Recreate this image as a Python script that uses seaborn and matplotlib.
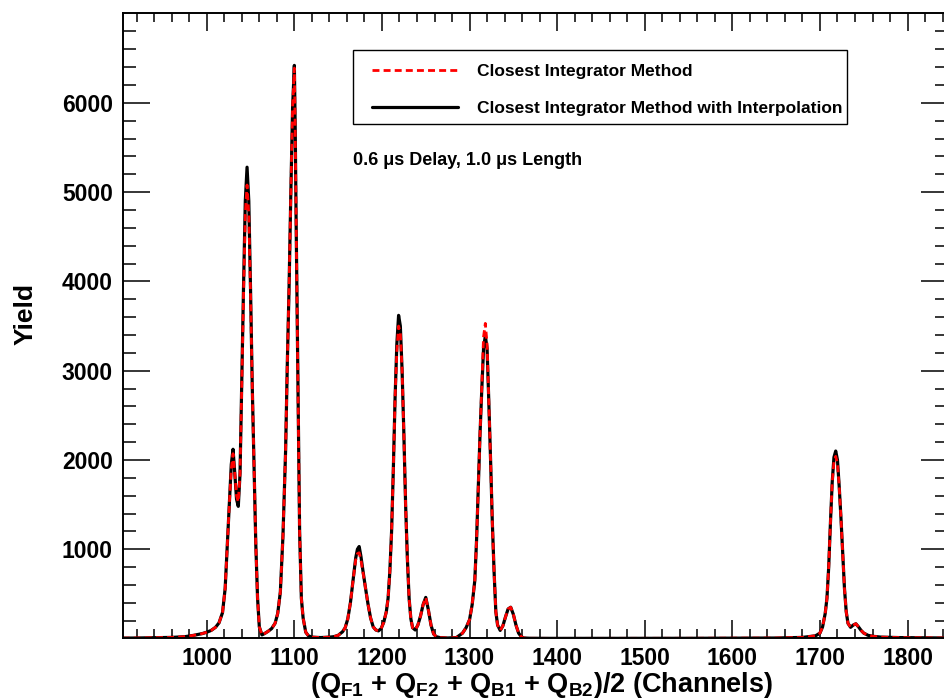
import matplotlib
matplotlib.use("Agg")
import matplotlib.pyplot as plt
from matplotlib.ticker import FixedLocator
from matplotlib.patches import Rectangle
import numpy as np
import pandas as pd
import seaborn as sns

# ---------------- data ----------------
channels = [
    904, 920, 940, 960, 975, 985, 995, 1000, 1005, 1010, 1014, 1018, 1021,
    1024, 1026, 1028, 1030, 1032, 1034, 1036, 1038, 1040, 1042, 1044, 1046,
    1048, 1050, 1052, 1054, 1056, 1058, 1060, 1063, 1066, 1070, 1074, 1078,
    1081, 1084, 1087, 1090, 1092, 1094, 1096, 1098, 1100, 1101, 1102, 1104,
    1106, 1108, 1110, 1113, 1116, 1120, 1130, 1140, 1145, 1150, 1155, 1158,
    1161, 1164, 1167, 1170, 1172, 1174, 1176, 1178, 1181, 1184, 1187, 1190,
    1193, 1196, 1199, 1202, 1205, 1207, 1209, 1211, 1213, 1215, 1217, 1219,
    1221, 1223, 1225, 1227, 1229, 1231, 1233, 1235, 1238, 1241, 1244, 1247,
    1250, 1253, 1256, 1259, 1262, 1266, 1275, 1285, 1292, 1296, 1300, 1303,
    1306, 1308, 1310, 1312, 1314, 1316, 1318, 1320, 1322, 1324, 1326, 1328,
    1330, 1332, 1335, 1338, 1341, 1344, 1347, 1350, 1353, 1356, 1359, 1362,
    1370, 1400, 1450, 1500, 1550, 1600, 1650, 1680, 1695, 1700, 1703, 1706,
    1708, 1710, 1712, 1714, 1716, 1718, 1720, 1722, 1724, 1726, 1728, 1730,
    1732, 1735, 1738, 1741, 1744, 1747, 1750, 1755, 1760, 1770, 1790, 1810,
    1830, 1846,
]

yield_interp = [
    4, 5, 8, 12, 20, 35, 55, 70, 90, 125, 175, 290, 560,
    1150, 1550, 1950, 2120, 1850, 1560, 1480, 1850, 2900, 3950, 4900, 5280,
    4900, 3900, 2800, 1900, 1050, 450, 130, 40, 55, 80, 110, 170,
    280, 520, 1150, 2100, 3100, 3950, 5000, 5950, 6420, 5700, 4700, 2900,
    1200, 450, 230, 70, 30, 15, 10, 15, 20, 35, 75, 120,
    220, 400, 650, 900, 1000, 1030, 920, 780, 580, 390, 230, 130,
    95, 85, 110, 180, 300, 450, 750, 1200, 1900, 2700, 3300, 3620,
    3500, 3000, 2300, 1500, 900, 450, 220, 120, 95, 150, 250, 380,
    460, 320, 150, 50, 20, 10, 5, 10, 60, 120, 210, 380,
    650, 1100, 1700, 2300, 2800, 3250, 3390, 3250, 2650, 2000, 1300, 750,
    300, 150, 90, 140, 240, 330, 350, 270, 150, 60, 20, 5,
    2, 1, 1, 1, 2, 3, 5, 12, 30, 60, 130, 280,
    450, 800, 1300, 1750, 2030, 2100, 2000, 1700, 1350, 950, 560, 300,
    170, 125, 150, 165, 130, 90, 60, 35, 25, 15, 10, 8,
    6, 5,
]

yield_closest = [
    4, 5, 8, 12, 20, 35, 55, 70, 90, 125, 175, 290, 560,
    1150, 1550, 1900, 2070, 1850, 1600, 1530, 1850, 2850, 3850, 4750, 5080,
    4750, 3850, 2800, 1900, 1050, 450, 130, 40, 55, 80, 110, 170,
    280, 520, 1150, 2100, 3100, 3950, 5000, 5950, 6390, 5650, 4700, 2900,
    1200, 450, 230, 70, 30, 15, 10, 15, 20, 35, 75, 120,
    220, 400, 650, 880, 950, 960, 880, 760, 580, 390, 230, 130,
    95, 85, 110, 180, 300, 450, 750, 1200, 1900, 2700, 3220, 3500,
    3420, 3000, 2300, 1500, 900, 450, 220, 120, 95, 150, 250, 380,
    460, 320, 150, 50, 20, 10, 5, 10, 60, 120, 210, 380,
    650, 1100, 1700, 2300, 2850, 3380, 3530, 3300, 2650, 2000, 1300, 750,
    300, 150, 90, 140, 240, 330, 350, 270, 150, 60, 20, 5,
    2, 1, 1, 1, 2, 3, 5, 12, 30, 60, 130, 280,
    450, 800, 1300, 1750, 1980, 2040, 1960, 1700, 1350, 950, 560, 300,
    170, 125, 150, 165, 130, 90, 60, 35, 25, 15, 10, 8,
    6, 5,
]

series_labels = ["Closest Integrator Method",
                 "Closest Integrator Method with Interpolation"]
x_ticks = [1000, 1100, 1200, 1300, 1400, 1500, 1600, 1700, 1800]
y_ticks = [1000, 2000, 3000, 4000, 5000, 6000]
annotation = "0.6 \u03bcs Delay, 1.0 \u03bcs Length"

# ---------------- style ----------------
sns.set_theme(style="ticks")
plt.rcParams["font.family"] = ["Liberation Sans", "DejaVu Sans"]
plt.rcParams["font.weight"] = "bold"
plt.rcParams["text.color"] = "black"
plt.rcParams["axes.labelcolor"] = "black"
plt.rcParams["xtick.color"] = "black"
plt.rcParams["ytick.color"] = "black"
plt.rcParams["mathtext.fontset"] = "custom"
plt.rcParams["mathtext.rm"] = "Liberation Sans:bold"
plt.rcParams["mathtext.bf"] = "Liberation Sans:bold"
plt.rcParams["mathtext.it"] = "Liberation Sans:bold"

fig = plt.figure(figsize=(9.45, 7.0), dpi=100)
ax = fig.add_axes([0.1298, 0.0879, 0.8732, 0.8935])

df = pd.DataFrame({"channel": channels,
                   "interp": yield_interp,
                   "closest": yield_closest})

sns.lineplot(data=df, x="channel", y="interp", color="black", lw=2.3,
             label=series_labels[1], ax=ax)
sns.lineplot(data=df, x="channel", y="closest", color="#ff0000", lw=2.0,
             label=series_labels[0], ax=ax)
ax.lines[1].set_linestyle((0, (2.5, 1.5)))

ax.set_xlim(904, 1846)
ax.set_ylim(0, 7007)

ax.xaxis.set_major_locator(FixedLocator(x_ticks))
ax.xaxis.set_minor_locator(FixedLocator(np.arange(920, 1846, 20)))
ax.yaxis.set_major_locator(FixedLocator(y_ticks))
ax.yaxis.set_minor_locator(FixedLocator(np.arange(200, 7000, 200)))

ax.tick_params(axis="x", which="major", direction="in", length=13, width=1.1,
               top=True, bottom=True, labelsize=16.5, pad=6, color="black",
               labelcolor="black")
ax.tick_params(axis="x", which="minor", direction="in", length=6.5, width=1.1,
               top=True, bottom=True, color="black")
ax.tick_params(axis="y", which="major", direction="in", length=19.4, width=1.1,
               left=True, right=True, labelsize=16.5, pad=7, color="black",
               labelcolor="black")
ax.tick_params(axis="y", which="minor", direction="in", length=9.4, width=1.1,
               left=True, right=True, color="black")
for lab in ax.get_xticklabels() + ax.get_yticklabels():
    lab.set_fontweight("bold")

for sp in ax.spines.values():
    sp.set_visible(True)
    sp.set_linewidth(1.4)
    sp.set_color("black")

ax.set_xlabel(r"($\mathbf{Q_{F1}}$ + $\mathbf{Q_{F2}}$ + $\mathbf{Q_{B1}}$ + "
              r"$\mathbf{Q_{B2}}$)/2 (Channels)", fontsize=19.5,
              fontweight="bold", color="black")
ax.xaxis.set_label_coords(0.507, -0.051)
ax.set_ylabel("Yield", fontsize=19, fontweight="bold", color="black")
ax.yaxis.set_label_coords(-0.1026, 0.519)

# legend frame drawn separately for exact placement
ax.add_patch(Rectangle((0.279, 0.8225), 0.5986, 0.1185, transform=ax.transAxes,
                       fill=True, facecolor="white", edgecolor="black",
                       lw=1.0, zorder=4))
handles, labels = ax.get_legend_handles_labels()
leg = ax.legend([handles[1], handles[0]], [labels[1], labels[0]],
                loc="upper left", bbox_to_anchor=(0.302, 0.9185),
                fontsize=12.5, handlelength=4.95, handletextpad=1.1,
                labelspacing=1.23, borderpad=0, borderaxespad=0,
                frameon=False)
leg.set_zorder(5)
for t in leg.get_texts():
    t.set_fontweight("bold")
    t.set_color("black")

ax.text(0.279, 0.765, annotation, transform=ax.transAxes, fontsize=13,
        fontweight="bold", ha="left", va="center", color="black")

fig.savefig("out.png", dpi=100)
